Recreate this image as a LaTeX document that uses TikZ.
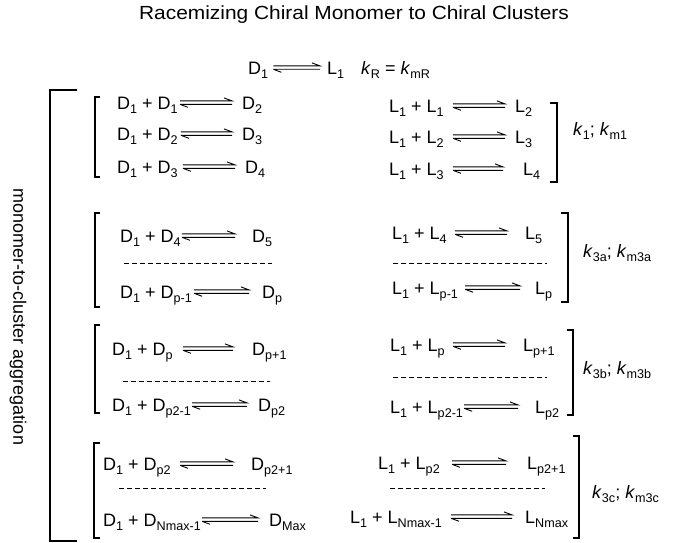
\documentclass[tikz,border=0pt]{standalone}
\usepackage{fontspec}
\setmainfont{Liberation Sans}
\usetikzlibrary{calc}
% lowered, smaller subscript text
\newcommand\sbs[1]{\raisebox{-0.24em}{\fontsize{12.6}{13}\selectfont #1}}
\tikzset{
  chem/.style={anchor=base west, inner sep=0pt, font=\fontsize{18}{20}\selectfont},
  ratelbl/.style={anchor=west, inner sep=0pt, font=\fontsize{18}{20}\selectfont},
  brk/.style={line width=1.1pt},
  sep/.style={line width=0.8pt, dash pattern=on 5pt off 3pt},
  % equilibrium harpoons between two nodes: #1 gap after start, #2 gap before target
  eq/.style 2 args={line width=0.9pt, to path={
    ($(\tikztostart.base east)+(#1,-8.6)$) --
    ($(\tikztostart.base east -| \tikztotarget.base west)+(-#2,-8.6)$) -- ++(-8,-3)
    ($(\tikztostart.base east)+(#1,-5.2)$) -- ++(8,3)
    ($(\tikztostart.base east)+(#1,-5.2)$) --
    ($(\tikztostart.base east -| \tikztotarget.base west)+(-#2,-5.2)$)
  }}
}
\begin{document}
\begin{tikzpicture}[x=1pt,y=-1pt]
\useasboundingbox (0,0) rectangle (680,543);

\node[anchor=base, inner sep=0pt, font=\fontsize{19}{21}\selectfont] (title) at (354,20)
  {\scalebox{1.1}[1]{Racemizing Chiral Monomer to Chiral Clusters}};

% racemization
\node[chem] (d1) at (248,74.5) {D\sbs1};
\node[chem] (l1) at (327,74.5) {L\sbs1};
\draw[eq={5}{7}] (d1) to (l1);
\node[chem] (kr) at (361,74.5) {\textit{k}\sbs{R} = \textit{k}\sbs{mR}};

% outer bracket and side label
\draw[brk] (77,90) -- (50,90) -- (50,541) -- (77,541);
\node[rotate=-90, inner sep=0pt, font=\fontsize{18}{20}\selectfont] (side) at (18,317)
  {monomer-to-cluster aggregation};

% ---- group 1 ----
\draw[brk] (100,97) -- (95,97) -- (95,177) -- (100,177);
\node[chem] (a1) at (117,109.5) {D\sbs1 + D\sbs1};
\node[chem] (b1) at (242,109.5) {D\sbs2};
\draw[eq={2}{10}] (a1) to (b1);
\node[chem] (a2) at (117,140.5) {D\sbs1 + D\sbs2};
\node[chem] (b2) at (242,140.5) {D\sbs3};
\draw[eq={3}{10}] (a2) to (b2);
\node[chem] (a3) at (117,173.5) {D\sbs1 + D\sbs3};
\node[chem] (b3) at (245,173.5) {D\sbs4};
\draw[eq={5}{10}] (a3) to (b3);

\node[chem] (c1) at (389,112.5) {L\sbs1 + L\sbs1};
\node[chem] (e1) at (515,112.5) {L\sbs2};
\draw[eq={9}{10}] (c1) to (e1);
\node[chem] (c2) at (389,143.5) {L\sbs1 + L\sbs2};
\node[chem] (e2) at (515,143.5) {L\sbs3};
\draw[eq={9}{10}] (c2) to (e2);
\node[chem] (c3) at (389,175.5) {L\sbs1 + L\sbs3};
\node[chem] (e3) at (523,175.5) {L\sbs4};
\draw[eq={9}{20}] (c3) to (e3);
\draw[brk] (550,103) -- (557,103) -- (557,182) -- (550,182);
\node[ratelbl] (k1) at (573,131) {\textit{k}\sbs1; \textit{k}\sbs{m1}};

% ---- group 2 ----
\draw[brk] (100,213) -- (95,213) -- (95,307) -- (100,307);
\node[chem] (a4) at (120,242.5) {D\sbs1 + D\sbs4};
\node[chem] (b4) at (252,242.5) {D\sbs5};
\draw[eq={1}{17}] (a4) to (b4);
\draw[sep] (124,263) -- (272,263);
\node[chem] (a5) at (120,298.5) {D\sbs1 + D\sbs{p-1}};
\node[chem] (b5) at (262,298.5) {D\sbs{p}};
\draw[eq={2}{13}] (a5) to (b5);

\node[chem] (c4) at (392,239.5) {L\sbs1 + L\sbs4};
\node[chem] (e4) at (525,239.5) {L\sbs5};
\draw[eq={8}{18}] (c4) to (e4);
\draw[sep] (393,263) -- (547,263);
\node[chem] (c5) at (392,294.5) {L\sbs1 + L\sbs{p-1}};
\node[chem] (e5) at (535,294.5) {L\sbs{p}};
\draw[eq={7}{15}] (c5) to (e5);
\draw[brk] (561,213) -- (568,213) -- (568,302) -- (561,302);
\node[ratelbl] (k3a) at (583,253) {\textit{k}\sbs{3a}; \textit{k}\sbs{m3a}};

% ---- group 3 ----
\draw[brk] (100,325) -- (95,325) -- (95,413) -- (100,413);
\node[chem] (a6) at (112,355.5) {D\sbs1 + D\sbs{p}};
\node[chem] (b6) at (252,355.5) {D\sbs{p+1}};
\draw[eq={10}{19}] (a6) to (b6);
\draw[sep] (123,381) -- (270,381);
\node[chem] (a7) at (112,411.5) {D\sbs1 + D\sbs{p2-1}};
\node[chem] (b7) at (258,411.5) {D\sbs{p2}};
\draw[eq={1}{11}] (a7) to (b7);

\node[chem] (c6) at (390,351.5) {L\sbs1 + L\sbs{p}};
\node[chem] (e6) at (523,351.5) {L\sbs{p+1}};
\draw[eq={8}{18}] (c6) to (e6);
\draw[sep] (393,377) -- (547,377);
\node[chem] (c7) at (390,413.5) {L\sbs1 + L\sbs{p2-1}};
\node[chem] (e7) at (535,413.5) {L\sbs{p2}};
\draw[eq={1}{17}] (c7) to (e7);
\draw[brk] (567,330) -- (573,330) -- (573,415) -- (567,415);
\node[ratelbl] (k3b) at (583,370) {\textit{k}\sbs{3b}; \textit{k}\sbs{m3b}};

% ---- group 4 ----
\draw[brk] (100,443) -- (94,443) -- (94,538) -- (100,538);
\node[chem] (a8) at (103,470.5) {D\sbs1 + D\sbs{p2}};
\node[chem] (b8) at (251,470.5) {D\sbs{p2+1}};
\draw[eq={9}{18}] (a8) to (b8);
\draw[sep] (119,488) -- (266,488);
\node[chem] (a9) at (103,526.5) {D\sbs1 + D\sbs{Nmax-1}};
\node[chem] (b9) at (269,526.5) {D\sbs{Max}};
\draw[eq={1}{11}] (a9) to (b9);

\node[chem] (c8) at (378,469.5) {L\sbs1 + L\sbs{p2}};
\node[chem] (e8) at (527,469.5) {L\sbs{p2+1}};
\draw[eq={12}{21}] (c8) to (e8);
\draw[sep] (390,488) -- (545,488);
\node[chem] (c9) at (350,523.5) {L\sbs1 + L\sbs{Nmax-1}};
\node[chem] (e9) at (525,523.5) {L\sbs{Nmax}};
\draw[eq={9}{13}] (c9) to (e9);
\draw[brk] (573,436) -- (579,436) -- (579,538) -- (573,538);
\node[ratelbl] (k3c) at (592,494) {\textit{k}\sbs{3c}; \textit{k}\sbs{m3c}};
\end{tikzpicture}
\end{document}
